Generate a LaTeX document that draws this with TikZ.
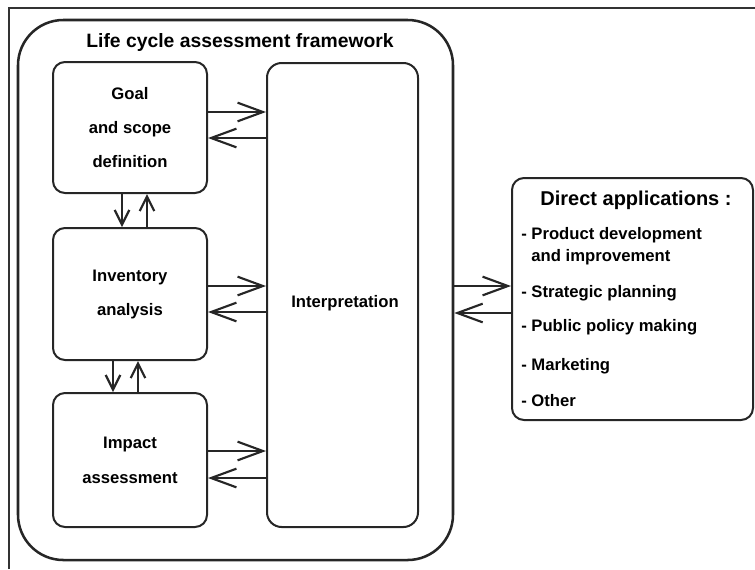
\documentclass[tikz,border=0pt]{standalone}
\usepackage{fontspec}
\setmainfont{Liberation Sans}
\usetikzlibrary{arrows.meta,fit}
\begin{document}
\begin{tikzpicture}[x=0.75pt,y=-0.75pt,
  ink/.style={draw=black!85, line width=1.5pt},
  box/.style={ink, rounded corners=9pt, inner sep=0pt, align=center,
    font=\bfseries\fontsize{12.5}{25.5}\selectfont},
  flow/.style={draw=black!85, line width=1.9pt,
    -{Straight Barb[length=19pt,width=14pt,line width=1.6pt]}},
  vflow/.style={draw=black!85, line width=1.9pt,
    -{Straight Barb[length=11pt,width=11pt,line width=1.6pt]}},
  item/.style={anchor=west, inner sep=0pt,
    font=\bfseries\fontsize{12.5}{16.5}\selectfont, align=left}
]
\useasboundingbox (0,0) rectangle (755,569);

% page frame
\draw[draw=black!80, line width=1pt] (9,569) -- (9,8) -- (755,8);

% framework container
\node[ink, line width=1.9pt, rounded corners=34pt, inner sep=0pt,
      fit={(18,20) (453,560)}] (lca) {};
\node[font=\bfseries\fontsize{14.5}{17}\selectfont, inner sep=0pt]
  (lcatitle) at (240,42) {Life cycle assessment framework};

% phases
\node[box, fit={(53,62) (207,193)}] (goal) {};
\node[font=\bfseries\fontsize{12.5}{25.5}\selectfont, align=center]
  (goaltext) at (goal.center) {Goal\\and scope\\definition};
\node[box, fit={(53,228) (207,360)}] (inv) {};
\node[font=\bfseries\fontsize{12.5}{25.5}\selectfont, align=center]
  (invtext) at (inv.center) {Inventory\\analysis};
\node[box, fit={(53,393) (207,527)}] (imp) {};
\node[font=\bfseries\fontsize{12.5}{26}\selectfont, align=center]
  (imptext) at (imp.center) {Impact\\assessment};
\node[box, rounded corners=11pt, fit={(267,63) (418,527)}] (interp) {};
\node[font=\bfseries\fontsize{12.5}{15}\selectfont]
  (interptext) at (345,303) {Interpretation};

% applications
\node[box, fit={(512,178) (753,420)}] (apps) {};
\node[font=\bfseries\fontsize{15}{18}\selectfont, inner sep=0pt]
  (appstitle) at (636,200) {Direct applications :};
\node[item] (a1) at (521,246) {- Product development\\\hphantom{- }and improvement};
\node[item] (a2) at (521,293) {- Strategic planning};
\node[item] (a3) at (521,327) {- Public policy making};
\node[item] (a4) at (521,366) {- Marketing};
\node[item] (a5) at (521,401) {- Other};

% exchanges with interpretation
\draw[flow] (goal.east |- 0,112) -- (interp.west |- 0,112);
\draw[flow] (interp.west |- 0,138) -- (goal.east |- 0,138);
\draw[flow] (inv.east |- 0,286) -- (interp.west |- 0,286);
\draw[flow] (interp.west |- 0,312) -- (inv.east |- 0,312);
\draw[flow] (imp.east |- 0,451) -- (interp.west |- 0,451);
\draw[flow] (interp.west |- 0,478) -- (imp.east |- 0,478);

% exchanges between phases
\draw[vflow] (122,0 |- goal.south) -- (122,0 |- inv.north);
\draw[vflow] (147,0 |- inv.north) -- (147,0 |- goal.south);
\draw[vflow] (113,0 |- inv.south) -- (113,0 |- imp.north);
\draw[vflow] (138,0 |- imp.north) -- (138,0 |- inv.south);

% framework to applications
\draw[flow] (lca.east |- 0,286) -- (apps.west |- 0,286);
\draw[flow] (apps.west |- 0,313) -- (lca.east |- 0,313);
\end{tikzpicture}
\end{document}
